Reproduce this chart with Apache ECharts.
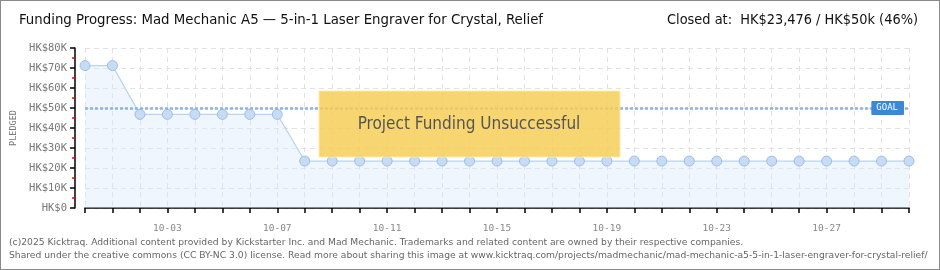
<!DOCTYPE html>
<html><head><meta charset="utf-8">
<script src="https://cdn.jsdelivr.net/npm/echarts@6/dist/echarts.min.js"></script>
<style>
html,body{margin:0;padding:0;background:#fff;}
#wrap{position:absolute;left:0;top:0;width:938px;height:268px;border:1px solid #8a8a8a;}
#c{width:940px;height:270px;position:absolute;left:-1px;top:-1px;}
</style></head>
<body><div id="wrap"></div><div id="c"></div>
<script>
const titleText = 'Funding Progress: Mad Mechanic A5 — 5-in-1 Laser Engraver for Crystal, Relief';
const closedText = 'Closed at:  HK$23,476 / HK$50k (46%)';
const footer1 = '(c)2025 Kicktraq. Additional content provided by Kickstarter Inc. and Mad Mechanic. Trademarks and related content are owned by their respective companies.';
const footer2 = 'Shared under the creative commons (CC BY-NC 3.0) license. Read more about sharing this image at www.kicktraq.com/projects/madmechanic/mad-mechanic-a5-5-in-1-laser-engraver-for-crystal-relief/';
const dates = ['09-30','10-01','10-02','10-03','10-04','10-05','10-06','10-07','10-08','10-09','10-10','10-11','10-12','10-13','10-14','10-15','10-16','10-17','10-18','10-19','10-20','10-21','10-22','10-23','10-24','10-25','10-26','10-27','10-28','10-29','10-30'];
const pledged = [71200,71200,46800,46800,46800,46800,46800,46800,23476,23476,23476,23476,23476,23476,23476,23476,23476,23476,23476,23476,23476,23476,23476,23476,23476,23476,23476,23476,23476,23476,23476];
const goal = 50000;
const yTicks = ['HK$0','HK$10K','HK$20K','HK$30K','HK$40K','HK$50K','HK$60K','HK$70K','HK$80K'];
const bannerText = 'Project Funding Unsuccessful';

const F = "'DejaVu Sans Condensed','Liberation Sans Narrow',Roboto,sans-serif";
const chart = echarts.init(document.getElementById('c'));
chart.setOption({
  animation:false,
  grid:{left:86,right:30,top:49,bottom:61,containLabel:false},
  xAxis:{type:'category',data:dates,boundaryGap:false,offset:10,
    axisLine:{lineStyle:{color:'#000',width:1.5}},
    axisTick:{show:true,interval:0,length:5,lineStyle:{color:'#000',width:1.5}},
    axisLabel:{interval:(i)=>(i-3)%4===0,color:'#888',fontSize:9.5,fontFamily:'DejaVu Sans Mono',margin:6},
    splitLine:{show:true,interval:0,lineStyle:{color:'#e2e2e2',type:[5,4]}}
  },
  yAxis:{type:'value',min:0,max:80000,interval:10000,offset:10,
    name:'PLEDGED',nameLocation:'middle',nameGap:56,nameTextStyle:{color:'#777',fontSize:8.5,fontFamily:'DejaVu Sans Mono'},
    axisLine:{show:true,lineStyle:{color:'#000',width:1.5}},
    axisTick:{show:true,length:5,lineStyle:{color:'#000',width:1.5}},
    minorTick:{show:true,splitNumber:2,length:3,lineStyle:{color:'#e00',width:1.5}},
    axisLabel:{formatter:(v)=>yTicks[v/10000],color:'#777',fontSize:10.5,fontFamily:'DejaVu Sans Mono',margin:8},
    splitLine:{show:true,lineStyle:{color:'#e2e2e2',type:[5,4]}}
  },
  series:[{type:'line',data:pledged,symbol:'circle',symbolSize:10,
    lineStyle:{color:'#b9d4f1',width:1.2},
    itemStyle:{color:'#c6dcf5',borderColor:'#9ebde2',borderWidth:1},
    areaStyle:{color:'rgba(220,233,250,0.6)'},
    z:3,
    markLine:{silent:true,symbol:'none',
      lineStyle:{color:'#8db4e2',width:2.5,type:[3,2]},
      label:{show:true,position:'insideEnd',formatter:'GOAL',color:'#fff',backgroundColor:'#3c87d8',fontSize:9,fontFamily:'DejaVu Sans Mono',padding:[3,6,2,5],borderRadius:1,distance:5},
      data:[{yAxis:goal}]}
  }],
  graphic:[
    {type:'text',left:20,top:14,style:{text:titleText,fontSize:14.8,fontFamily:F,fill:'#111'}},
    {type:'text',right:21,top:14,style:{text:closedText,fontSize:14.4,fontFamily:F,fill:'#111'}},
    {type:'rect',shape:{x:320,y:92,width:301,height:66},style:{fill:'rgba(246,206,88,0.85)',stroke:'rgba(255,236,170,0.9)',lineWidth:1},z:10},
    {type:'text',x:470,y:126,style:{text:bannerText,fontSize:17,fontFamily:F,fill:'#555',align:'center',verticalAlign:'middle',textShadowColor:'#fff',textShadowOffsetX:1,textShadowOffsetY:1},z:11},
    {type:'text',left:10,top:239,style:{text:footer1,fontSize:9.2,fontFamily:'DejaVu Sans',fill:'#666'}},
    {type:'text',left:10,top:252,style:{text:footer2,fontSize:9.2,fontFamily:'DejaVu Sans',fill:'#666'}}
  ]
});
</script></body></html>
